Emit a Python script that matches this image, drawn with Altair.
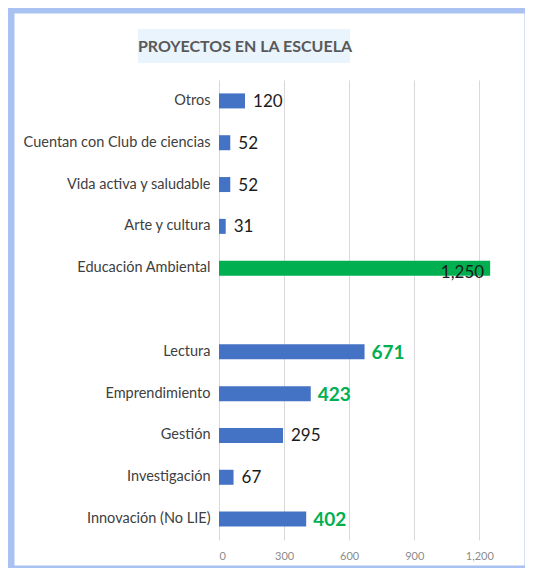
import altair as alt
import pandas as pd

categories = ["Otros", "Cuentan con Club de ciencias", "Vida activa y saludable",
              "Arte y cultura", "Educación Ambiental", " ", "Lectura",
              "Emprendimiento", "Gestión", "Investigación", "Innovación (No LIE)"]
values = [120, 52, 52, 31, 1250, None, 671, 423, 295, 67, 402]
featured = ["Educación Ambiental"]
highlighted = ["Lectura", "Emprendimiento", "Innovación (No LIE)"]
x_ticks = [0, 300, 600, 900, 1200]
title_text = "PROYECTOS EN LA ESCUELA"

rows = []
for c, v in zip(categories, values):
    if v is None:
        continue
    if c in featured:
        grp = "featured"
    elif c in highlighted:
        grp = "highlight"
    else:
        grp = "normal"
    rows.append({"cat": c, "val": v, "grp": grp})
df = pd.DataFrame(rows)

FONT = "Lato"
W, H = 282, 460

x_enc = alt.X("val:Q", scale=alt.Scale(domain=[0, 1300], nice=False),
              axis=alt.Axis(values=x_ticks, format=",.0f", title=None, domain=False, ticks=False,
                            grid=True, gridColor="#D9D9D9", labelColor="#8C8C8C",
                            labelFontSize=11, labelPadding=10, labelFont=FONT))
y_enc = alt.Y("cat:N", sort=categories,
              scale=alt.Scale(domain=categories, paddingInner=0, paddingOuter=0),
              axis=alt.Axis(title=None, domain=False, ticks=False, labelFont=FONT,
                            labelFontSize=14.5, labelColor="#404040", labelPadding=9,
                            labelLimit=400))

base = alt.Chart(df)

frame_df = pd.DataFrame({"k": [0]})
shadow_bottom = alt.Chart(frame_df).mark_rect(color="#707070").encode(
    x=alt.value(-203), x2=alt.value(313), y=alt.value(489), y2=alt.value(494))
shadow_right = alt.Chart(frame_df).mark_rect(color="#8A8A8A").encode(
    x=alt.value(308), x2=alt.value(313), y=alt.value(-64), y2=alt.value(494))
frame = alt.Chart(frame_df).mark_rect(fillOpacity=0, stroke="#A9C2F2", strokeWidth=7).encode(
    x=alt.value(-208), x2=alt.value(309), y=alt.value(-70), y2=alt.value(489))
title_box = alt.Chart(frame_df).mark_rect(color="#EAF4FC").encode(
    x=alt.value(-81), x2=alt.value(131), y=alt.value(-51), y2=alt.value(-17))
title = alt.Chart(pd.DataFrame({"t": [title_text]})).mark_text(
    font=FONT, fontSize=16, fontWeight="bold", color="#595959", align="center", baseline="middle"
).encode(text="t:N", x=alt.value(26), y=alt.value(-33))

bars = base.mark_bar(size=15).encode(
    x=x_enc, y=y_enc,
    color=alt.Color("grp:N", scale=alt.Scale(domain=["normal", "highlight", "featured"],
                                             range=["#4472C4", "#4472C4", "#00B050"]), legend=None))

lab_normal = base.transform_filter(alt.datum.grp == "normal").mark_text(
    font=FONT, fontSize=17, color="#1A1A1A", align="left", baseline="middle", dx=8, dy=1
).encode(x="val:Q", y=alt.Y("cat:N", sort=categories), text=alt.Text("val:Q", format=",.0f"))
lab_high = base.transform_filter(alt.datum.grp == "highlight").mark_text(
    font=FONT, fontSize=19, fontWeight="bold", color="#00B050", align="left", baseline="middle", dx=7, dy=1
).encode(x="val:Q", y=alt.Y("cat:N", sort=categories), text=alt.Text("val:Q", format=",.0f"))
lab_feat = base.transform_filter(alt.datum.grp == "featured").mark_text(
    font=FONT, fontSize=17, color="#1A1A1A", align="right", baseline="middle", dx=-6, dy=5
).encode(x="val:Q", y=alt.Y("cat:N", sort=categories), text=alt.Text("val:Q", format=",.0f"))

chart = alt.layer(shadow_bottom, shadow_right, frame, title_box, title, bars,
                  lab_normal, lab_high, lab_feat).properties(
    width=W, height=H,
    autosize=alt.AutoSizeParams(type="none"),
    padding={"left": 211, "top": 72, "right": 24, "bottom": 28},
    background="white",
).configure_view(stroke=None)

chart.save("out.html", embed_options={"renderer": "svg", "actions": False})
